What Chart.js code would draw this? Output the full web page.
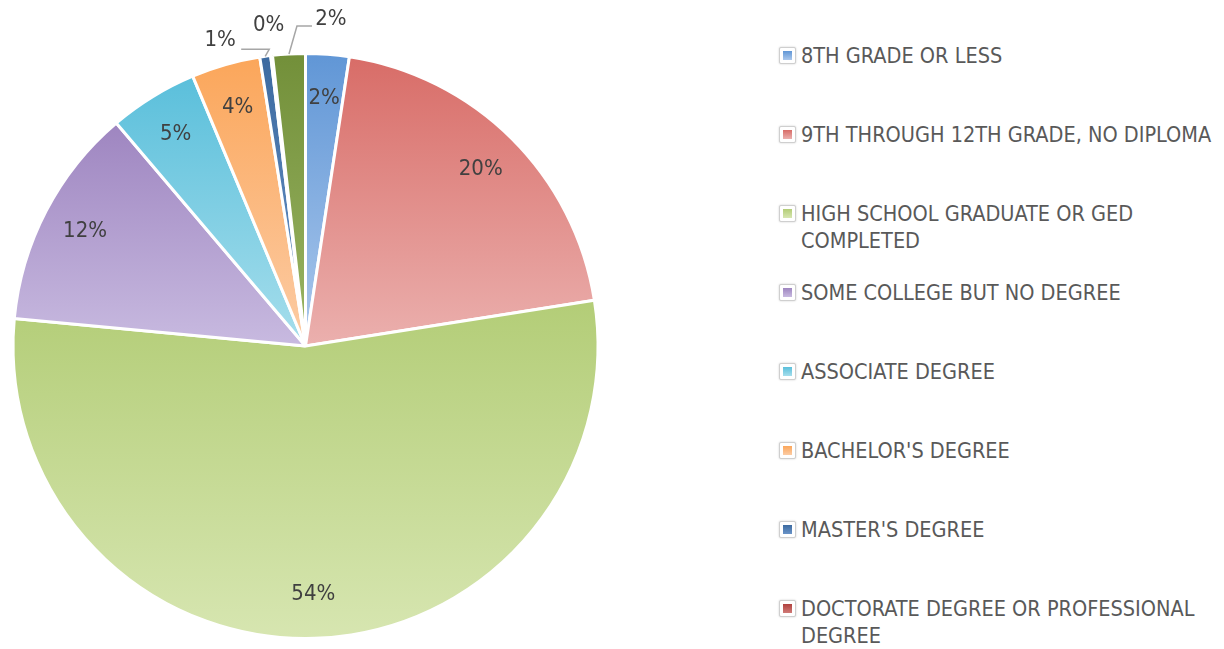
<!DOCTYPE html>
<html>
<head>
<meta charset="utf-8">
<script src="https://cdn.jsdelivr.net/npm/chart.js@4.4.1/dist/chart.umd.min.js"></script>
<style>
  body { margin: 0; background: #fff; width: 1224px; height: 649px; overflow: hidden; position: relative;
         font-family: "Liberation Sans Narrow", "DejaVu Sans Condensed", "Open Sans", sans-serif; }
  #pieBox { position: absolute; left: 0; top: 0; width: 612px; height: 649px; }
  .item { position: absolute; left: 779px; color: #595959; font-size: 21.5px; line-height: 27px; white-space: nowrap; }
  .box { position: absolute; left: 0; top: 5px; width: 15px; height: 15px; border: 1px solid #cfcfcf;
         border-radius: 2px; background: #fff; box-shadow: 0 0 2px #c8c8c8; }
  .box i { position: absolute; left: 3px; top: 3px; width: 9px; height: 9px; }
  .txt { position: absolute; left: 22px; top: 0; }
</style>
</head>
<body>
<div id="pieBox"><canvas id="myChart"></canvas></div>
<div id="legend"></div>
<script>
// categories, clockwise from 12 o'clock
const categories = [
  "8TH GRADE OR LESS",
  "9TH THROUGH 12TH GRADE, NO DIPLOMA",
  ["HIGH SCHOOL GRADUATE OR GED", "COMPLETED"],
  "SOME COLLEGE BUT NO DEGREE",
  "ASSOCIATE DEGREE",
  "BACHELOR'S DEGREE",
  "MASTER'S DEGREE",
  ["DOCTORATE DEGREE OR PROFESSIONAL", "DEGREE"],
  "OTHER"
];
// share of respondents in %
const shares = [2.4, 20.1, 54.0, 12.3, 4.9, 3.8, 0.6, 0.1, 1.8];

// gradient colours (top of slice -> bottom of slice)
const topColors = ['#6096d6', '#d86c67', '#b3cd77', '#9e85c0', '#5abfdb', '#fba65a', '#3c6aa0', '#b0413e', '#728f39'];
const bottomColors = ['#abc8ec', '#ebb0ae', '#d7e6b1', '#c8bae0', '#a6deec', '#fccca5', '#6a94c8', '#d07b78', '#9ab564'];

// how many entries the legend shows (the last one is cut off in the original)
const legendCount = 8;

// vertical gradient over each slice's own bounding box
function sliceGradient(context) {
  const chart = context.chart;
  const area = chart.chartArea;
  const i = context.dataIndex;
  if (!area) return topColors[i];
  const cx = (area.left + area.right) / 2;
  const cy = (area.top + area.bottom) / 2;
  const r = Math.min(area.right - area.left, area.bottom - area.top) / 2;
  const total = shares.reduce((a, b) => a + b, 0);
  let before = 0;
  for (let k = 0; k < i; k++) before += shares[k];
  const a0 = -Math.PI / 2 + before / total * 2 * Math.PI;
  const a1 = a0 + shares[i] / total * 2 * Math.PI;
  let ys = [cy, cy + Math.sin(a0) * r, cy + Math.sin(a1) * r];
  // does the arc pass the bottom (pi/2) or the top (3pi/2)?
  if (a0 <= Math.PI / 2 && a1 >= Math.PI / 2) ys.push(cy + r);
  if (a0 <= 3 * Math.PI / 2 && a1 >= 3 * Math.PI / 2) ys.push(cy - r);
  let y0 = Math.min(...ys), y1 = Math.max(...ys);
  if (y1 - y0 < 1) y1 = y0 + 1;
  const g = chart.ctx.createLinearGradient(0, y0, 0, y1);
  g.addColorStop(0, topColors[i]);
  g.addColorStop(1, bottomColors[i]);
  return g;
}

// labels outside the pie for the thin slices: offsets from the slice's rim point
const outsideLabels = {
  6: { label: [-45, -16], line: [[4, -7], [-24, -7]] },
  7: { label: [-3, -30], line: null },
  8: { label: [42, -35], line: [[8, -28], [23, -28]] }
};

const percentLabels = {
  id: 'percentLabels',
  afterDatasetsDraw(chart) {
    const ctx = chart.ctx;
    const meta = chart.getDatasetMeta(0);
    const total = shares.reduce((a, b) => a + b, 0);
    ctx.save();
    ctx.font = '22px "Liberation Sans Narrow", "DejaVu Sans Condensed", "Open Sans", sans-serif';
    ctx.fillStyle = '#404040';
    ctx.textAlign = 'center';
    ctx.textBaseline = 'middle';
    meta.data.forEach((arc, i) => {
      const p = arc.getProps(['x', 'y', 'startAngle', 'endAngle', 'outerRadius'], true);
      const mid = (p.startAngle + p.endAngle) / 2;
      const text = Math.round(shares[i] / total * 100) + '%';
      const out = outsideLabels[i];
      if (!out) {
        const r = p.outerRadius * 0.85;
        ctx.fillText(text, p.x + Math.cos(mid) * r, p.y + Math.sin(mid) * r);
        return;
      }
      const ax = p.x + Math.cos(mid) * p.outerRadius;
      const ay = p.y + Math.sin(mid) * p.outerRadius;
      if (out.line) {
        ctx.strokeStyle = '#a6a6a6';
        ctx.lineWidth = 1.5;
        ctx.beginPath();
        ctx.moveTo(ax, ay);
        out.line.forEach(pt => ctx.lineTo(ax + pt[0], ay + pt[1]));
        ctx.stroke();
      }
      ctx.fillText(text, ax + out.label[0], ay + out.label[1]);
    });
    ctx.restore();
  }
};

const myChart = document.getElementById('myChart');

let pieChart = new Chart(myChart, {
  type: 'pie',
  data: {
    labels: categories,
    datasets: [{
      data: shares,
      backgroundColor: sliceGradient,
      borderColor: '#ffffff',
      borderWidth: 3,
      hoverOffset: 0
    }]
  },
  options: {
    responsive: true,
    maintainAspectRatio: false,
    animation: false,
    layout: { padding: { top: 52, bottom: 9, left: 11, right: 12 } },
    plugins: {
      legend: { display: false },
      tooltip: { enabled: false }
    }
  },
  plugins: [percentLabels]
});

// legend on the right
const legend = document.getElementById('legend');
for (let i = 0; i < legendCount; i++) {
  const lines = Array.isArray(categories[i]) ? categories[i] : [categories[i]];
  const item = document.createElement('div');
  item.className = 'item';
  item.style.top = (55 + 79 * i - 13.5) + 'px';
  item.innerHTML = '<div class="box"><i style="background:linear-gradient(' + topColors[i] + ',' + bottomColors[i] + ')"></i></div>' +
    '<div class="txt">' + lines.join('<br>') + '</div>';
  legend.appendChild(item);
}
</script>
</body>
</html>
